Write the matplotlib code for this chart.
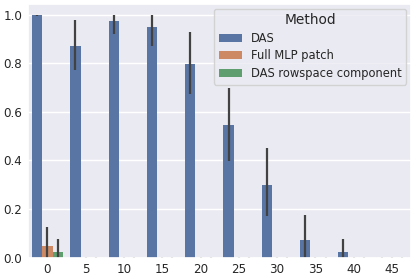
import numpy as np
import matplotlib
matplotlib.use("Agg")
import matplotlib.pyplot as plt
import seaborn as sns

# layer index on x axis
layers = [0, 5, 10, 15, 20, 25, 30, 35, 40, 45]
methods = ["DAS", "Full MLP patch", "DAS rowspace component"]

# mean accuracy per method, with lower / upper CI
das_mean = [1.0, 0.872, 0.974, 0.948, 0.798, 0.548, 0.298, 0.074, 0.023, 0.0]
das_lo = [0.995, 0.773, 0.923, 0.873, 0.674, 0.398, 0.171, 0.0, 0.0, 0.0]
das_hi = [1.0, 0.978, 1.0, 1.0, 0.928, 0.70, 0.453, 0.177, 0.077, 0.0]

mlp_mean = [0.047, 0, 0, 0, 0, 0, 0, 0, 0, 0]
mlp_lo = [0.0, 0, 0, 0, 0, 0, 0, 0, 0, 0]
mlp_hi = [0.127, 0, 0, 0, 0, 0, 0, 0, 0, 0]

row_mean = [0.023, 0, 0, 0, 0, 0, 0, 0, 0, 0]
row_lo = [0.0, 0, 0, 0, 0, 0, 0, 0, 0, 0]
row_hi = [0.077, 0, 0, 0, 0, 0, 0, 0, 0, 0]

sns.set_theme(style="darkgrid")
pal = sns.color_palette("deep", 3, desat=0.75)

fig, ax = plt.subplots(figsize=(4.16, 2.79), dpi=100)

x = np.arange(len(layers))
w = 0.8 / 3
series = [(das_mean, das_lo, das_hi), (mlp_mean, mlp_lo, mlp_hi), (row_mean, row_lo, row_hi)]
for i, (m, lo, hi) in enumerate(series):
    xs = x + (i - 1) * w
    ax.bar(xs, m, width=w, color=pal[i], linewidth=0, label=methods[i])
    for xi, a, b in zip(xs, lo, hi):
        if b - a < 0.004:
            b = a + 0.004  # tiny stub like seaborn's zero-length CI
        ax.plot([xi, xi], [a, b], color=".26", lw=1.6, solid_capstyle="butt")

ax.grid(axis="x", visible=False)
ax.set_xlim(-0.5, len(layers) - 0.5)
ax.set_ylim(0, 1.045)
ax.set_xticks(x)
ax.set_xticklabels([str(l) for l in layers], fontsize=8.6)
ax.set_yticks([0, 0.2, 0.4, 0.6, 0.8, 1.0])
ax.set_yticklabels(["0.0", "0.2", "0.4", "0.6", "0.8", "1.0"], fontsize=8.6)
ax.tick_params(length=0, pad=4.3)

leg = ax.legend(title="Method", loc="upper right", fontsize=8.3, title_fontsize=9.9,
                labelspacing=0.4, borderaxespad=0.4)

fig.subplots_adjust(left=0.068, right=0.988, top=0.986, bottom=0.077)
fig.savefig("out.png", dpi=100)
